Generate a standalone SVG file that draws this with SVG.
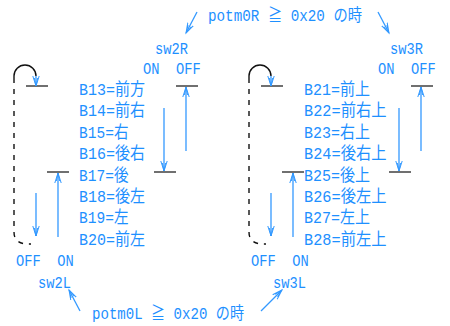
<svg xmlns="http://www.w3.org/2000/svg" width="450" height="326" viewBox="0 0 450 326" xml:space="preserve">
<style>
text{font-family:"Liberation Mono","Noto Sans CJK JP",monospace;font-size:16.5px;fill:#1E90FF;white-space:pre}
.cjk{font-family:"Noto Sans CJK JP",sans-serif}
.bar{stroke:#222;stroke-width:1.3;fill:none}
.arr{stroke:#3399FF;stroke-width:1.3;fill:none;marker-end:url(#ah)}
.blk{stroke:#111;stroke-width:1.4;fill:none}
.dash{stroke:#111;stroke-width:1.4;fill:none;stroke-dasharray:5 6}
</style>
<defs>
<marker id="ah" markerUnits="userSpaceOnUse" markerWidth="12" markerHeight="8" refX="10" refY="4" orient="auto">
<path d="M0,0.8 L10,4 L0,7.2 M2,2.3 L10,4 L2,5.7" fill="none" stroke="#3399FF" stroke-width="1"/>
</marker>
</defs>
<g id="conditions">
<text x="208" y="21" textLength="154" lengthAdjust="spacingAndGlyphs">potm0R ≧ 0x20 の時</text>
<text x="92" y="319" textLength="152" lengthAdjust="spacingAndGlyphs">potm0L ≧ 0x20 の時</text>
</g>
<g id="sw2R">
<text x="155" y="54" textLength="33" lengthAdjust="spacingAndGlyphs">sw2R</text>
<text x="143" y="74" textLength="57.75" lengthAdjust="spacingAndGlyphs">ON  OFF</text>
</g>
<g id="sw3R">
<text x="390" y="54" textLength="33" lengthAdjust="spacingAndGlyphs">sw3R</text>
<text x="378" y="74" textLength="57.75" lengthAdjust="spacingAndGlyphs">ON  OFF</text>
</g>
<g id="sw2L">
<text x="16" y="266" textLength="57.75" lengthAdjust="spacingAndGlyphs">OFF  ON</text>
<text x="38" y="288" textLength="33" lengthAdjust="spacingAndGlyphs">sw2L</text>
</g>
<g id="sw3L">
<text x="251" y="266" textLength="57.75" lengthAdjust="spacingAndGlyphs">OFF  ON</text>
<text x="273" y="288" textLength="33" lengthAdjust="spacingAndGlyphs">sw3L</text>
</g>
<g id="left-list">
<text x="79" y="95" textLength="66" lengthAdjust="spacingAndGlyphs">B13=前方</text>
<text x="79" y="116.4" textLength="66" lengthAdjust="spacingAndGlyphs">B14=前右</text>
<text x="79" y="137.8" textLength="49.5" lengthAdjust="spacingAndGlyphs">B15=右</text>
<text x="79" y="159.2" textLength="66" lengthAdjust="spacingAndGlyphs">B16=後右</text>
<text x="79" y="180.6" textLength="49.5" lengthAdjust="spacingAndGlyphs">B17=後</text>
<text x="79" y="202" textLength="66" lengthAdjust="spacingAndGlyphs">B18=後左</text>
<text x="79" y="223.4" textLength="49.5" lengthAdjust="spacingAndGlyphs">B19=左</text>
<text x="79" y="244.8" textLength="66" lengthAdjust="spacingAndGlyphs">B20=前左</text>
</g>
<g id="right-list">
<text x="304" y="95" textLength="66" lengthAdjust="spacingAndGlyphs">B21=前上</text>
<text x="304" y="116.4" textLength="82.5" lengthAdjust="spacingAndGlyphs">B22=前右上</text>
<text x="304" y="137.8" textLength="66" lengthAdjust="spacingAndGlyphs">B23=右上</text>
<text x="304" y="159.2" textLength="82.5" lengthAdjust="spacingAndGlyphs">B24=後右上</text>
<text x="304" y="180.6" textLength="66" lengthAdjust="spacingAndGlyphs">B25=後上</text>
<text x="304" y="202" textLength="82.5" lengthAdjust="spacingAndGlyphs">B26=後左上</text>
<text x="304" y="223.4" textLength="66" lengthAdjust="spacingAndGlyphs">B27=左上</text>
<text x="304" y="244.8" textLength="82.5" lengthAdjust="spacingAndGlyphs">B28=前左上</text>
</g>
<g id="connectors">
<line class="arr" x1="197" y1="12" x2="186" y2="33"/>
<line class="arr" x1="378" y1="12" x2="389" y2="33"/>
<line class="arr" x1="80" y1="311" x2="69" y2="290"/>
<line class="arr" x1="261" y1="311" x2="282" y2="290"/>
<g id="left-diagram">
<line class="bar" x1="26" y1="86" x2="48" y2="86"/>
<line class="bar" x1="176" y1="86" x2="198" y2="86"/>
<line class="bar" x1="47" y1="172" x2="69" y2="172"/>
<line class="bar" x1="154" y1="172" x2="176" y2="172"/>
<path class="blk" d="M14,78 L14,76 A11,11 0 0 1 36,76"/>
<path class="dash" d="M14,78 L14,232 Q14,245 31,244"/>
<line class="arr" x1="36" y1="76" x2="36" y2="86"/>
<line class="arr" x1="186" y1="151" x2="186" y2="87"/>
<line class="arr" x1="164" y1="108" x2="164" y2="171"/>
<line class="arr" x1="58" y1="237" x2="58" y2="173"/>
<line class="arr" x1="36" y1="193" x2="36" y2="236"/>
</g>
<g id="right-diagram" transform="translate(235,0)">
<line class="bar" x1="26" y1="86" x2="48" y2="86"/>
<line class="bar" x1="176" y1="86" x2="198" y2="86"/>
<line class="bar" x1="47" y1="172" x2="69" y2="172"/>
<line class="bar" x1="154" y1="172" x2="176" y2="172"/>
<path class="blk" d="M14,78 L14,76 A11,11 0 0 1 36,76"/>
<path class="dash" d="M14,78 L14,232 Q14,245 31,244"/>
<line class="arr" x1="36" y1="76" x2="36" y2="86"/>
<line class="arr" x1="186" y1="151" x2="186" y2="87"/>
<line class="arr" x1="164" y1="108" x2="164" y2="171"/>
<line class="arr" x1="58" y1="237" x2="58" y2="173"/>
<line class="arr" x1="36" y1="193" x2="36" y2="236"/>
</g>
</g>
</svg>
